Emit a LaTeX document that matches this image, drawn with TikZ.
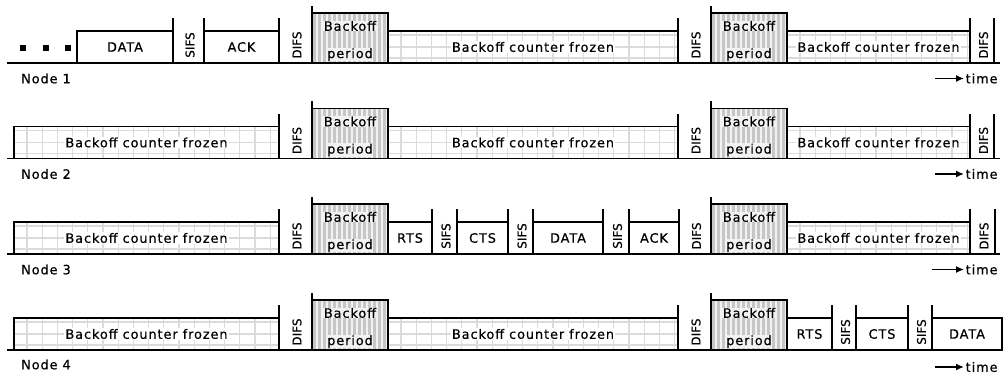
\documentclass[tikz,border=0pt]{standalone}
\usepackage{fontspec}
\usetikzlibrary{arrows.meta}
\newfontfamily\lblfont[LetterSpace=7,FakeBold=0.5]{DejaVu Sans}
\newfontfamily\gapfont[FakeBold=0.5]{DejaVu Sans}
\newcommand\lbl{\lblfont\fontsize{12.9}{14}\selectfont}
\newcommand\gapf{\gapfont\fontsize{12}{14}\selectfont}
\begin{document}
\begin{tikzpicture}[x=1pt,y=1pt,
  line/.style={line width=1.7pt},
  box/.style={draw, line width=1.7pt, anchor=south west, inner sep=0pt, outer sep=0pt, minimum height=32pt, fill=white, font=\lbl},
  frozen/.style={box, path picture={
     \foreach \gx in {13,28.2,...,400}
        \draw[gray!28, line width=1.3pt] ([xshift=\gx pt]path picture bounding box.south west) -- ([xshift=\gx pt]path picture bounding box.north west);
     \foreach \gy in {4,16,27}
        \draw[gray!28, line width=1.3pt] ([yshift=-\gy pt]path picture bounding box.north west) -- ([yshift=-\gy pt]path picture bounding box.north east);}},
  backoff/.style={box, minimum height=50pt, fill=gray!10, path picture={
     \foreach \gx in {2.5,7.5,...,90}
        \draw[gray!45, line width=2.5pt] ([xshift=\gx pt]path picture bounding box.south west) -- ([xshift=\gx pt]path picture bounding box.north west);}},
  ftext/.style={fill=white, inner sep=1pt, font=\lbl},
  btext/.style={fill=gray!10, inner sep=0.5pt, font=\lbl},
  gap/.style={rotate=90, inner sep=0pt, font=\gapf},
  nodelbl/.style={anchor=west, inner sep=0pt, font=\lbl},
  timelbl/.style={anchor=west, inner sep=1.5pt, font=\lbl},
  tarrow/.style={-{Latex[length=8pt,width=7pt]}, line width=1.5pt},
  dot/.style={fill=black, inner sep=0pt, minimum size=5.5pt},
]
\useasboundingbox (0,0) rectangle (1008,376);
\fill[white] (0,0) rectangle (1008,376);

% ---------------- Row 1 ----------------
\begin{scope}[yshift=313pt]
\coordinate (r1s) at (7,0); \coordinate (r1e) at (1000,0);
\draw[line] (r1s) -- (r1e);
\node[dot] (r1d1) at (23,15) {};
\node[dot] (r1d2) at (46,15) {};
\node[dot] (r1d3) at (68,15) {};
\node[box, minimum width=96pt] (r1data) at (77,0) {DATA};
\node[gap] (r1g1) at (190,18) {SIFS};
\node[box, minimum width=75pt] (r1ack) at (204,0) {ACK};
\node[gap] (r1g2) at (297,18) {DIFS};
\node[backoff, minimum width=76pt] (r1b1) at (312,0) {};
\node[btext] (r1b1a) at ([yshift=-13pt]r1b1.north) {Backoff};
\node[btext] (r1b1b) at ([yshift=8.5pt]r1b1.south) {period};
\node[frozen, minimum width=290pt] (r1f1) at (388,0) {};
\node[ftext] (r1f1t) at (r1f1.center) {Backoff counter frozen};
\node[gap] (r1g3) at (696,18) {DIFS};
\node[backoff, minimum width=76pt] (r1b2) at (711,0) {};
\node[btext] (r1b2a) at ([yshift=-13pt]r1b2.north) {Backoff};
\node[btext] (r1b2b) at ([yshift=8.5pt]r1b2.south) {period};
\node[frozen, minimum width=183pt] (r1f2) at (787,0) {};
\node[ftext] (r1f2t) at (r1f2.center) {Backoff counter frozen};
\node[gap] (r1g4) at (983.5,18) {DIFS};
\coordinate (r1end) at (994,0);
\draw[line] (r1data.south east) -- ++(0,45);
\draw[line] (r1ack.south west) -- ++(0,45);
\draw[line] (r1ack.south east) -- ++(0,45);
\draw[line] (r1b1.south west) -- ++(0,57.5);
\draw[line] (r1f1.south east) -- ++(0,45);
\draw[line] (r1b2.south west) -- ++(0,57.5);
\draw[line] (r1f2.south east) -- ++(0,45);
\draw[line] (r1end) -- ++(0,45);
\node[nodelbl] (r1lbl) at (21,-15.5) {Node 1};
\coordinate (r1ta) at (935,-15.5);
\node[timelbl] (r1time) at (964,-15.5) {time};
\draw[tarrow] (r1ta) -- (r1time.west);
\end{scope}

% ---------------- Row 2 ----------------
\begin{scope}[yshift=217.5pt]
\coordinate (r2s) at (7,0); \coordinate (r2e) at (1000,0);
\draw[line] (r2s) -- (r2e);
\node[frozen, minimum width=265pt] (r2f1) at (14,0) {};
\node[ftext] (r2f1t) at (r2f1.center) {Backoff counter frozen};
\node[gap] (r2g1) at (297,18) {DIFS};
\node[backoff, minimum width=76pt] (r2b1) at (312,0) {};
\node[btext] (r2b1a) at ([yshift=-13pt]r2b1.north) {Backoff};
\node[btext] (r2b1b) at ([yshift=8.5pt]r2b1.south) {period};
\node[frozen, minimum width=290pt] (r2f2) at (388,0) {};
\node[ftext] (r2f2t) at (r2f2.center) {Backoff counter frozen};
\node[gap] (r2g2) at (696,18) {DIFS};
\node[backoff, minimum width=76pt] (r2b2) at (711,0) {};
\node[btext] (r2b2a) at ([yshift=-13pt]r2b2.north) {Backoff};
\node[btext] (r2b2b) at ([yshift=8.5pt]r2b2.south) {period};
\node[frozen, minimum width=183pt] (r2f3) at (787,0) {};
\node[ftext] (r2f3t) at (r2f3.center) {Backoff counter frozen};
\node[gap] (r2g3) at (983.5,18) {DIFS};
\coordinate (r2end) at (994,0);
\draw[line] (r2f1.south east) -- ++(0,45);
\draw[line] (r2b1.south west) -- ++(0,57.5);
\draw[line] (r2f2.south east) -- ++(0,45);
\draw[line] (r2b2.south west) -- ++(0,57.5);
\draw[line] (r2f3.south east) -- ++(0,45);
\draw[line] (r2end) -- ++(0,45);
\node[nodelbl] (r2lbl) at (21,-15.5) {Node 2};
\coordinate (r2ta) at (935,-15.5);
\node[timelbl] (r2time) at (964,-15.5) {time};
\draw[tarrow] (r2ta) -- (r2time.west);
\end{scope}

% ---------------- Row 3 ----------------
\begin{scope}[yshift=122pt]
\coordinate (r3s) at (7,0); \coordinate (r3e) at (1000,0);
\draw[line] (r3s) -- (r3e);
\node[frozen, minimum width=265pt] (r3f1) at (14,0) {};
\node[ftext] (r3f1t) at (r3f1.center) {Backoff counter frozen};
\node[gap] (r3g1) at (297,18) {DIFS};
\node[backoff, minimum width=76pt] (r3b1) at (312,0) {};
\node[btext] (r3b1a) at ([yshift=-13pt]r3b1.north) {Backoff};
\node[btext] (r3b1b) at ([yshift=8.5pt]r3b1.south) {period};
\node[box, minimum width=44pt] (r3rts) at (388,0) {RTS};
\node[gap] (r3g2) at (446,18) {SIFS};
\node[box, minimum width=51pt] (r3cts) at (457,0) {CTS};
\node[gap] (r3g3) at (522,18) {SIFS};
\node[box, minimum width=70pt] (r3data) at (533,0) {DATA};
\node[gap] (r3g4) at (617.5,18) {SIFS};
\node[box, minimum width=50pt] (r3ack) at (629,0) {ACK};
\node[gap] (r3g5) at (696.5,18) {DIFS};
\node[backoff, minimum width=76pt] (r3b2) at (711,0) {};
\node[btext] (r3b2a) at ([yshift=-13pt]r3b2.north) {Backoff};
\node[btext] (r3b2b) at ([yshift=8.5pt]r3b2.south) {period};
\node[frozen, minimum width=183pt] (r3f2) at (787,0) {};
\node[ftext] (r3f2t) at (r3f2.center) {Backoff counter frozen};
\node[gap] (r3g6) at (984,18) {DIFS};
\coordinate (r3end) at (995,0);
\draw[line] (r3f1.south east) -- ++(0,45);
\draw[line] (r3b1.south west) -- ++(0,57.5);
\draw[line] (r3rts.south east) -- ++(0,45);
\draw[line] (r3cts.south west) -- ++(0,45);
\draw[line] (r3cts.south east) -- ++(0,45);
\draw[line] (r3data.south west) -- ++(0,45);
\draw[line] (r3data.south east) -- ++(0,45);
\draw[line] (r3ack.south west) -- ++(0,45);
\draw[line] (r3ack.south east) -- ++(0,45);
\draw[line] (r3b2.south west) -- ++(0,57.5);
\draw[line] (r3f2.south east) -- ++(0,45);
\draw[line] (r3end) -- ++(0,45);
\node[nodelbl] (r3lbl) at (21,-15.5) {Node 3};
\coordinate (r3ta) at (932,-15.5);
\node[timelbl] (r3time) at (964,-15.5) {time};
\draw[tarrow] (r3ta) -- (r3time.west);
\end{scope}

% ---------------- Row 4 ----------------
\begin{scope}[yshift=26pt]
\coordinate (r4s) at (7,0); \coordinate (r4e) at (1002,0);
\draw[line] (r4s) -- (r4e);
\node[frozen, minimum width=265pt] (r4f1) at (14,0) {};
\node[ftext] (r4f1t) at (r4f1.center) {Backoff counter frozen};
\node[gap] (r4g1) at (297,18) {DIFS};
\node[backoff, minimum width=76pt] (r4b1) at (312,0) {};
\node[btext] (r4b1a) at ([yshift=-13pt]r4b1.north) {Backoff};
\node[btext] (r4b1b) at ([yshift=8.5pt]r4b1.south) {period};
\node[frozen, minimum width=290pt] (r4f2) at (388,0) {};
\node[ftext] (r4f2t) at (r4f2.center) {Backoff counter frozen};
\node[gap] (r4g2) at (696,18) {DIFS};
\node[backoff, minimum width=76pt] (r4b2) at (711,0) {};
\node[btext] (r4b2a) at ([yshift=-13pt]r4b2.north) {Backoff};
\node[btext] (r4b2b) at ([yshift=8.5pt]r4b2.south) {period};
\node[box, minimum width=45pt] (r4rts) at (787,0) {RTS};
\node[gap] (r4g3) at (845.5,18) {SIFS};
\node[box, minimum width=52pt] (r4cts) at (856,0) {CTS};
\node[gap] (r4g4) at (921.5,18) {SIFS};
\node[box, minimum width=70pt] (r4data) at (932,0) {DATA};
\draw[line] (r4f1.south east) -- ++(0,45);
\draw[line] (r4b1.south west) -- ++(0,57.5);
\draw[line] (r4f2.south east) -- ++(0,45);
\draw[line] (r4b2.south west) -- ++(0,57.5);
\draw[line] (r4rts.south east) -- ++(0,45);
\draw[line] (r4cts.south west) -- ++(0,45);
\draw[line] (r4cts.south east) -- ++(0,45);
\draw[line] (r4data.south west) -- ++(0,45);
\node[nodelbl] (r4lbl) at (21,-14.5) {Node 4};
\coordinate (r4ta) at (935,-17);
\node[timelbl] (r4time) at (964,-17) {time};
\draw[tarrow] (r4ta) -- (r4time.west);
\end{scope}
\end{tikzpicture}
\end{document}
